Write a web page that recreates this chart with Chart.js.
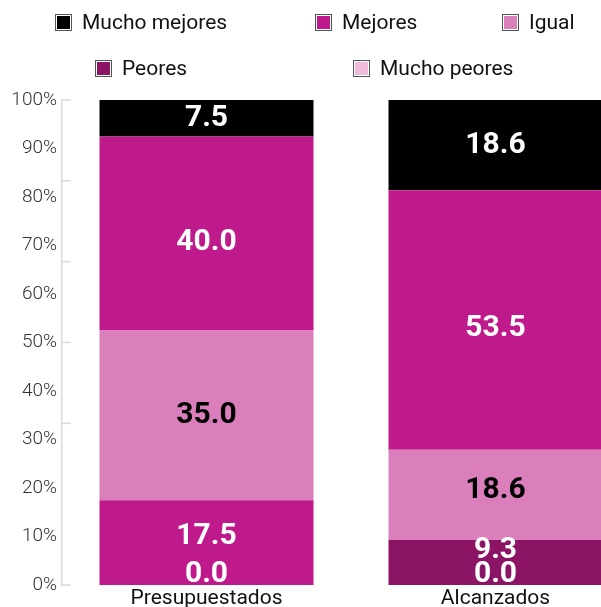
<!DOCTYPE html>
<html>
<head>
<meta charset="utf-8">
<script src="https://cdn.jsdelivr.net/npm/chart.js@4.4.1/dist/chart.umd.min.js"></script>
<style>
  html, body { margin: 0; padding: 0; background: #fff; overflow: hidden; }
  #wrap { position: relative; width: 601px; height: 607px; overflow: hidden; }
  canvas { position: absolute; left: 0; top: 0; }
  .legend-item {
    position: absolute; display: flex; align-items: center; height: 24px;
    font-family: Roboto, sans-serif; font-size: 21px; color: #111; white-space: nowrap;
  }
  .legend-item .box {
    width: 13px; height: 13px; padding: 1px; border: 1.5px solid #555;
    background-clip: content-box; margin-right: 10px;
  }
</style>
</head>
<body>
<div id="wrap">
  <canvas id="chart" width="640" height="607"></canvas>
  <div id="legend"></div>
</div>
<script>
// data (stacked from the bottom up)
const categories = ['Presupuestados', 'Alcanzados'];
const muchoPeores = [0.0, 0.0];
const peores = [17.5, 9.3];
const igual = [35.0, 18.6];
const mejores = [40.0, 53.5];
const muchoMejores = [7.5, 18.6];
const yTicks = [0, 10, 20, 30, 40, 50, 60, 70, 80, 90, 100];
const axisMarks = [0, 33.33, 50, 66.67, 83.33, 100];

const MAGENTA = '#be1a8c';
const PURPLE = '#8b1464';

const datasets = [
  { label: 'Mucho peores', data: muchoPeores, backgroundColor: '#efbbdc', labelColor: '#fff' },
  // the Presupuestados "Peores" block is drawn in the Mejores colour in the original
  { label: 'Peores', data: peores, backgroundColor: [MAGENTA, PURPLE], labelColor: '#fff' },
  { label: 'Igual', data: igual, backgroundColor: '#db7fbc', labelColor: '#000' },
  { label: 'Mejores', data: mejores, backgroundColor: MAGENTA, labelColor: '#fff' },
  { label: 'Mucho mejores', data: muchoMejores, backgroundColor: '#000', labelColor: '#fff' }
];

// html legend, laid out in two rows like the original
const legendSpots = [
  { name: 'Mucho mejores', color: '#000', x: 55, y: 10 },
  { name: 'Mejores', color: MAGENTA, x: 315, y: 10 },
  { name: 'Igual', color: '#db7fbc', x: 502, y: 10 },
  { name: 'Peores', color: PURPLE, x: 95, y: 56 },
  { name: 'Mucho peores', color: '#efbbdc', x: 353, y: 56 }
];
const legendEl = document.getElementById('legend');
legendSpots.forEach(it => {
  const d = document.createElement('div');
  d.className = 'legend-item';
  d.style.left = it.x + 'px';
  d.style.top = it.y + 'px';
  d.innerHTML = '<span class="box" style="background-color:' + it.color + '"></span><span>' + it.name + '</span>';
  legendEl.appendChild(d);
});

// values written in each block
const barLabels = {
  id: 'barLabels',
  afterDatasetsDraw(chart) {
    const { ctx, chartArea } = chart;
    ctx.save();
    ctx.beginPath();
    ctx.rect(chartArea.left, 0, chartArea.width, chartArea.bottom);
    ctx.clip();
    ctx.font = 'bold 30px Roboto';
    ctx.textAlign = 'center';
    ctx.textBaseline = 'middle';
    chart.data.datasets.forEach((ds, di) => {
      chart.getDatasetMeta(di).data.forEach((bar, i) => {
        const v = ds.data[i];
        let y = (bar.y + bar.base) / 2;
        if (v === 0) y = bar.base - 11;
        else if (di === 1) y = Math.min(y - 6, bar.base - 35);
        else if (di === 3) y += 9;
        else if (di === 2 && i === 1) y -= 4;
        ctx.fillStyle = ds.labelColor;
        ctx.fillText(v.toFixed(1), bar.x, y);
      });
    });
    ctx.restore();
  }
};

// little marks on the inside of the y axis
const axisTicks = {
  id: 'axisTicks',
  afterDraw(chart) {
    const { ctx, chartArea } = chart;
    const y = chart.scales.y;
    ctx.save();
    ctx.strokeStyle = '#d9d9d9';
    ctx.lineWidth = 1.5;
    axisMarks.forEach(v => {
      const py = y.getPixelForValue(v);
      ctx.beginPath();
      ctx.moveTo(chartArea.left, py);
      ctx.lineTo(chartArea.left + 9, py);
      ctx.stroke();
    });
    ctx.restore();
  }
};

new Chart(document.getElementById('chart'), {
  type: 'bar',
  data: { labels: categories, datasets: datasets },
  plugins: [barLabels, axisTicks],
  options: {
    responsive: false,
    animation: false,
    devicePixelRatio: 1,
    layout: { padding: { top: 100, left: 0, right: 0, bottom: 0 } },
    datasets: { bar: { barPercentage: 0.7405, categoryPercentage: 1, borderWidth: 0 } },
    plugins: { legend: { display: false }, tooltip: { enabled: false } },
    scales: {
      x: {
        stacked: true,
        afterFit(s) { s.height = 22; },
        grid: { display: false },
        border: { display: false },
        ticks: { padding: -7, color: '#111', font: { family: 'Roboto', size: 21 } }
      },
      y: {
        stacked: true,
        min: 0,
        max: 100,
        afterFit(s) { s.width = 62; },
        afterBuildTicks(s) { s.ticks = yTicks.map(v => ({ value: v })); },
        grid: { display: false, drawTicks: false },
        border: { display: true, color: '#d9d9d9', width: 1.5 },
        ticks: {
          padding: 5,
          color: '#333',
          font: { family: 'Roboto', size: 19, weight: '300' },
          callback: v => v + '%'
        }
      }
    }
  }
});
</script>
</body>
</html>
